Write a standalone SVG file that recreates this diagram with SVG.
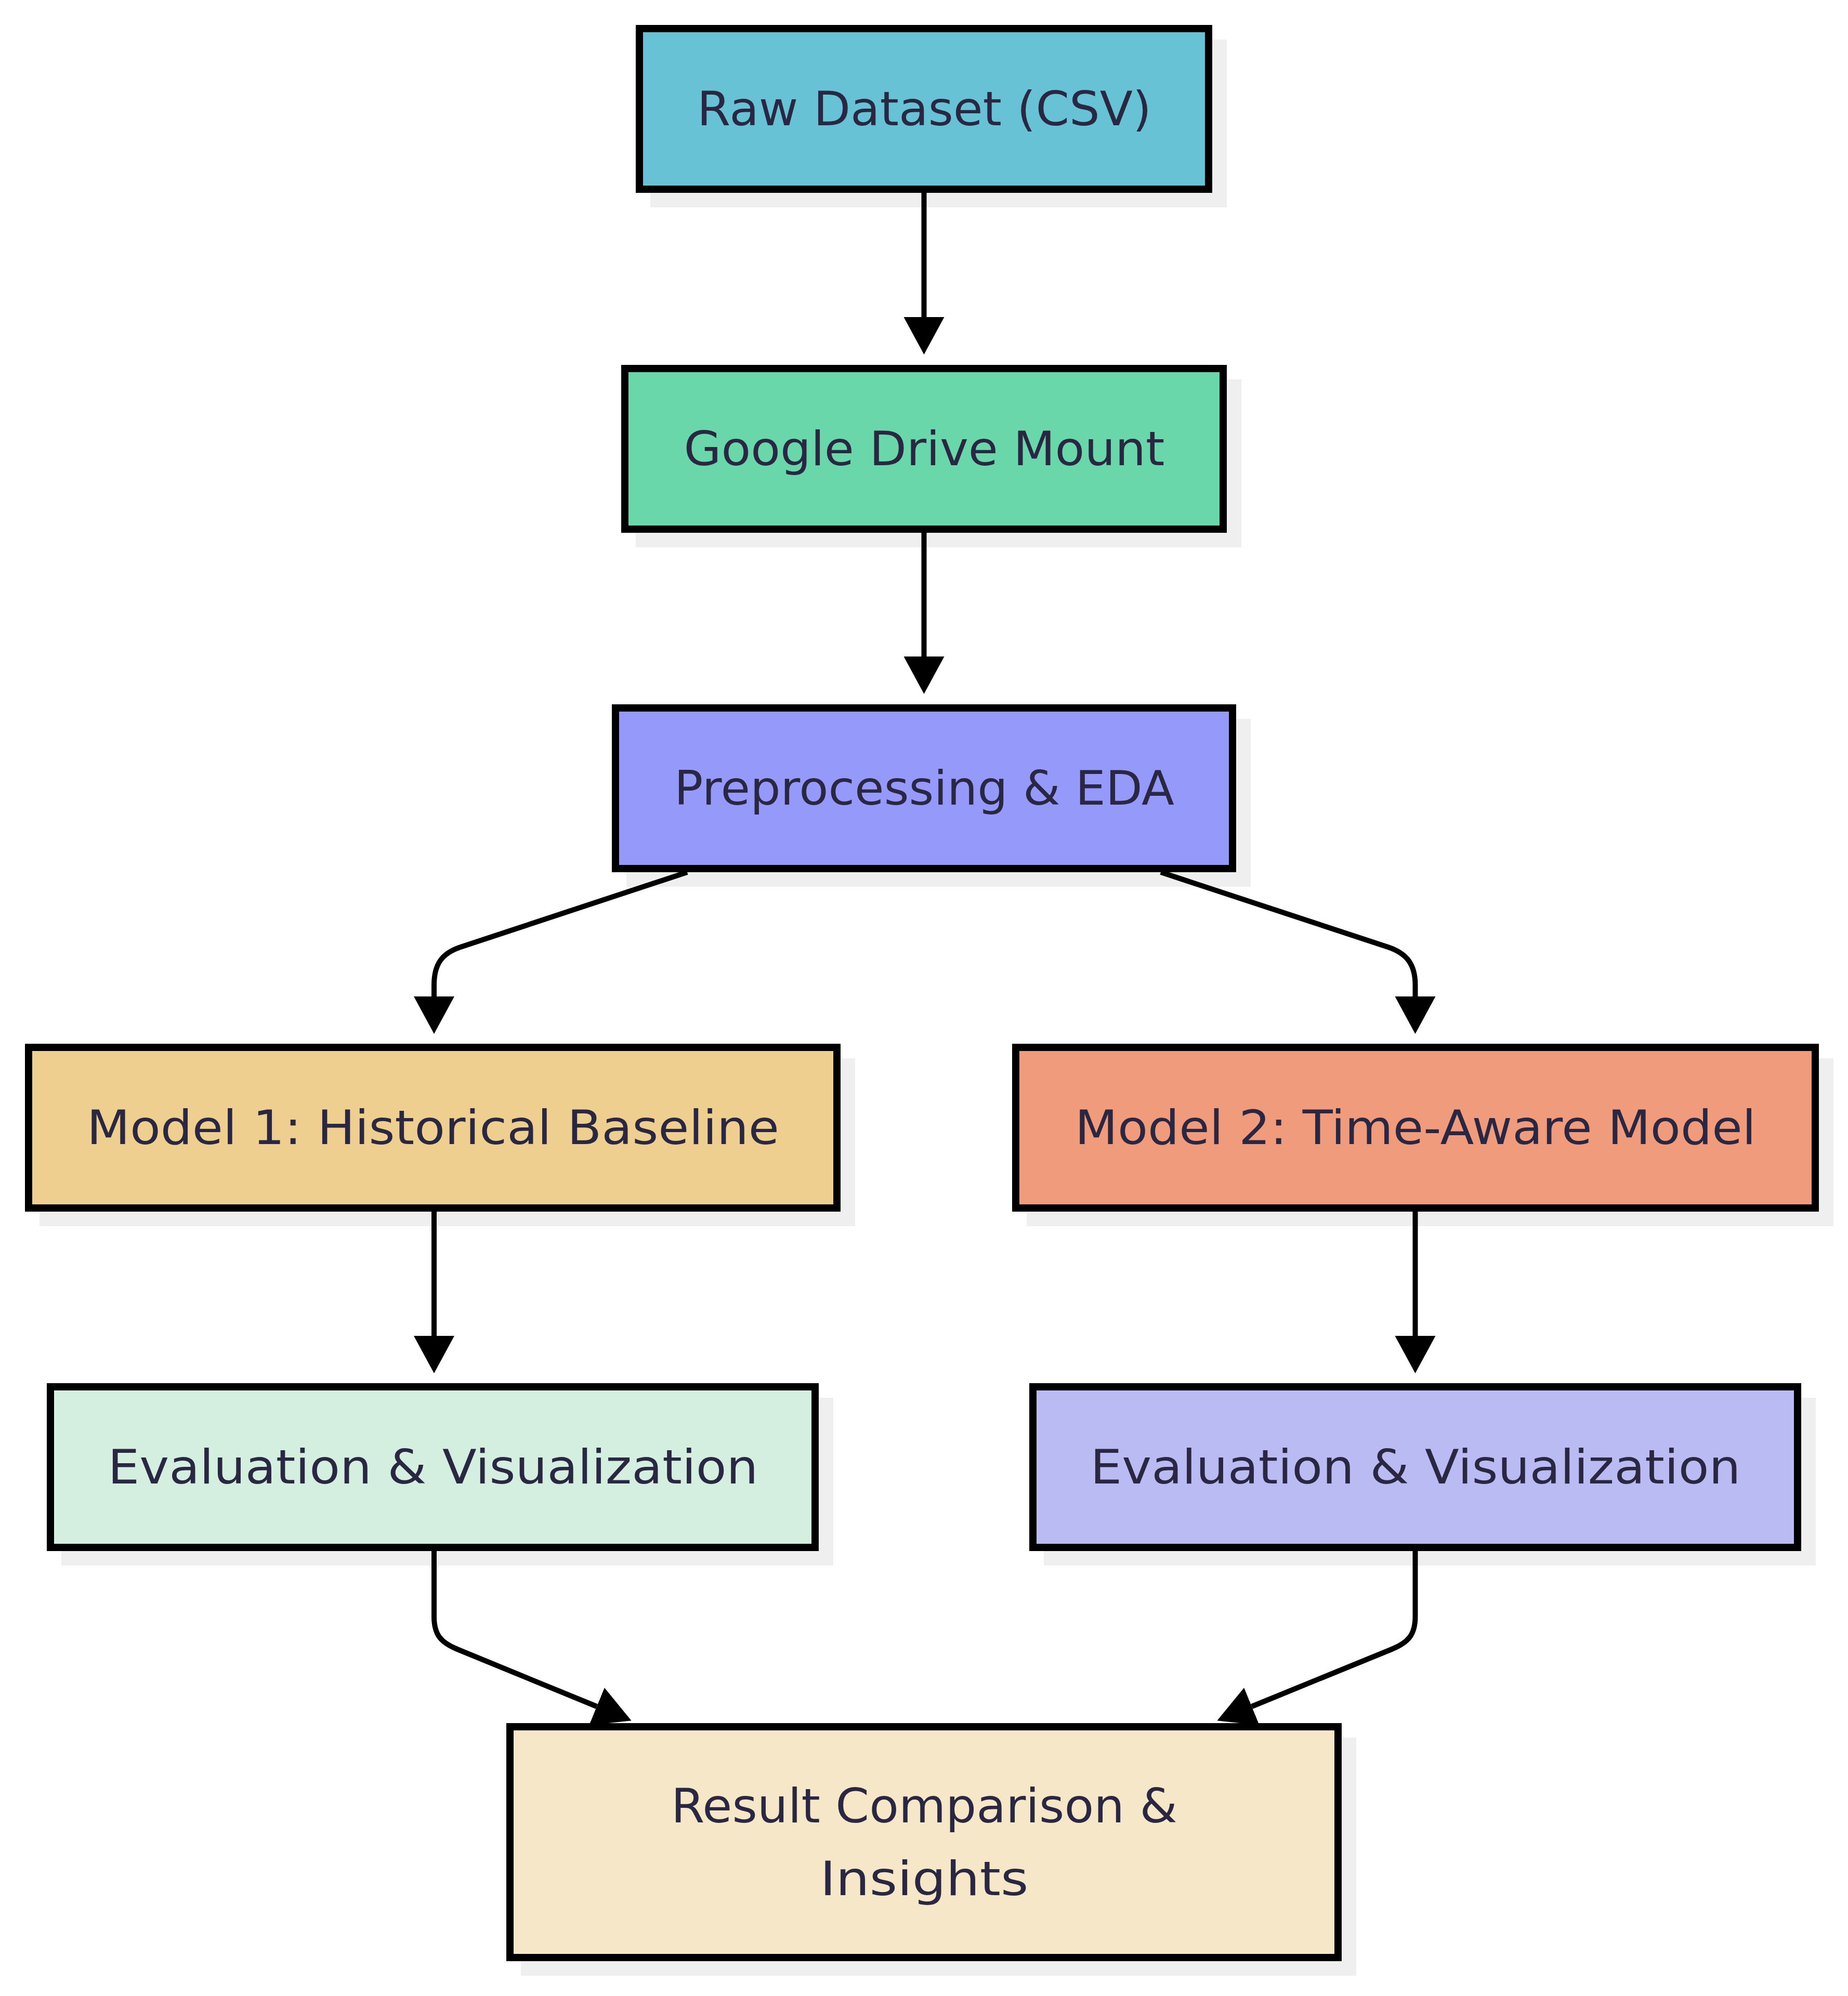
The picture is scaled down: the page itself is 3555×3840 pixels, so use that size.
<svg xmlns="http://www.w3.org/2000/svg" width="3555" height="3840" viewBox="0 0 3555 3840">
<style>
.bg{fill:#ffffff}
.shadow{fill:#efefef}
.box{stroke:#000000;stroke-width:14}
.lbl{font-family:"DejaVu Sans","Noto Sans",sans-serif;font-size:90px;fill:#2a2742;text-anchor:middle}
.edge{fill:none;stroke:#000000;stroke-width:10}
</style>
<defs>
<marker id="arrow" markerUnits="userSpaceOnUse" markerWidth="72" markerHeight="78" refX="0" refY="39" orient="auto" viewBox="0 0 72 78">
<path d="M0,0 L72,39 L0,78 Z" fill="#000000"/>
</marker>
</defs>
<rect class="bg" x="0" y="0" width="3555" height="3840"/>

<g id="shadows">
<rect class="shadow" x="1251" y="76" width="1109" height="323"/>
<rect class="shadow" x="1223" y="730" width="1165" height="323"/>
<rect class="shadow" x="1205" y="1383" width="1201" height="323"/>
<rect class="shadow" x="76" y="2036" width="1569" height="323"/>
<rect class="shadow" x="1975" y="2036" width="1552" height="323"/>
<rect class="shadow" x="118" y="2689" width="1485" height="323"/>
<rect class="shadow" x="2008" y="2689" width="1485" height="323"/>
<rect class="shadow" x="1002" y="3343" width="1607" height="458"/>
</g>

<g id="connectors">
<path class="edge" d="M1777.5,371 L1777.5,610" marker-end="url(#arrow)"/>
<path class="edge" d="M1777.5,1025 L1777.5,1263" marker-end="url(#arrow)"/>
<path class="edge" d="M1322,1678 L886,1822 C850,1834 835,1855 835,1895 L835,1917" marker-end="url(#arrow)"/>
<path class="edge" d="M2233,1678 L2670,1822 C2706,1834 2722.5,1855 2722.5,1895 L2722.5,1917" marker-end="url(#arrow)"/>
<path class="edge" d="M835,2331 L835,2570" marker-end="url(#arrow)"/>
<path class="edge" d="M2722.5,2331 L2722.5,2570" marker-end="url(#arrow)"/>
<path class="edge" d="M835,2984 L835,3110 C835,3145 848,3160 880,3173 L1148,3283" marker-end="url(#arrow)"/>
<path class="edge" d="M2722.5,2984 L2722.5,3110 C2722.5,3145 2709,3160 2677,3173 L2408,3283" marker-end="url(#arrow)"/>
</g>

<g id="node-raw">
<rect class="box" x="1230" y="55" width="1095" height="309" fill="#67c2d6"/>
<text class="lbl" x="1778" y="241" textLength="874" lengthAdjust="spacingAndGlyphs">Raw Dataset (CSV)</text>
</g>
<g id="node-drive">
<rect class="box" x="1202" y="709" width="1151" height="309" fill="#69d7a9"/>
<text class="lbl" x="1778" y="895" textLength="925" lengthAdjust="spacingAndGlyphs">Google Drive Mount</text>
</g>
<g id="node-prep">
<rect class="box" x="1184" y="1362" width="1187" height="309" fill="#959afa"/>
<text class="lbl" x="1778" y="1548" textLength="962" lengthAdjust="spacingAndGlyphs">Preprocessing &amp; EDA</text>
</g>
<g id="node-model1">
<rect class="box" x="55" y="2015" width="1555" height="309" fill="#eecf90"/>
<text class="lbl" x="833" y="2201" textLength="1332" lengthAdjust="spacingAndGlyphs">Model 1: Historical Baseline</text>
</g>
<g id="node-model2">
<rect class="box" x="1954" y="2015" width="1538" height="309" fill="#f09b7c"/>
<text class="lbl" x="2723" y="2201" textLength="1310" lengthAdjust="spacingAndGlyphs">Model 2: Time-Aware Model</text>
</g>
<g id="node-eval1">
<rect class="box" x="97" y="2668" width="1471" height="309" fill="#d4eee0"/>
<text class="lbl" x="833" y="2854" textLength="1251" lengthAdjust="spacingAndGlyphs">Evaluation &amp; Visualization</text>
</g>
<g id="node-eval2">
<rect class="box" x="1987" y="2668" width="1471" height="309" fill="#babbf2"/>
<text class="lbl" x="2723" y="2854" textLength="1251" lengthAdjust="spacingAndGlyphs">Evaluation &amp; Visualization</text>
</g>
<g id="node-result">
<rect class="box" x="981" y="3322" width="1593" height="444" fill="#f6e7c8"/>
<text class="lbl" x="1778" y="3506" textLength="974" lengthAdjust="spacingAndGlyphs">Result Comparison &amp;</text>
<text class="lbl" x="1778" y="3646" textLength="401" lengthAdjust="spacingAndGlyphs">Insights</text>
</g>
</svg>
